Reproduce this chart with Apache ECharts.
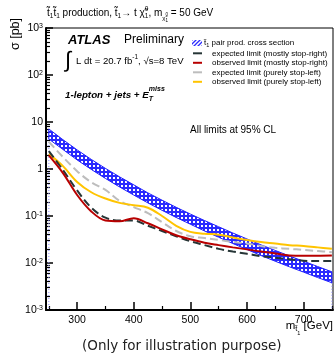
<!DOCTYPE html>
<html><head><meta charset="utf-8">
<script src="https://cdn.jsdelivr.net/npm/echarts@6/dist/echarts.min.js"></script>
<style>html,body{margin:0;padding:0;background:#fff}#c{width:335px;height:363px}</style>
</head><body><div id="c"></div>
<script>
// ---- data (stop mass in GeV, cross sections in pb) ----
const masses = [250,275,300,325,350,375,400,425,450,475,500,525,550,575,600,625,650,675,700,725,750];
const xsecHigh = [7.1,4.2,2.55,1.6,1.03,0.68,0.46,0.31,0.217,0.153,0.110,0.080,0.059,0.0435,0.0325,0.0243,0.0185,0.0141,0.0109,0.0084,0.0065];
const xsecLow  = [4.35,2.6,1.56,0.98,0.63,0.415,0.279,0.19,0.132,0.093,0.067,0.048,0.0353,0.026,0.0194,0.0144,0.0109,0.0083,0.0064,0.0049,0.0038];
const expRight = [2.4,0.95,0.35,0.15,0.092,0.080,0.080,0.062,0.048,0.037,0.029,0.024,0.020,0.0175,0.0157,0.014,0.013,0.012,0.0112,0.011,0.011];
const obsRight = [1.95,0.82,0.28,0.125,0.080,0.077,0.090,0.070,0.052,0.039,0.032,0.027,0.024,0.0215,0.0195,0.0175,0.016,0.0145,0.0143,0.0143,0.0144];
const expLeft  = [3.8,1.8,0.9,0.52,0.36,0.21,0.155,0.115,0.074,0.048,0.037,0.034,0.031,0.028,0.026,0.023,0.021,0.020,0.019,0.018,0.017];
const obsLeft  = [2.1,1.15,0.53,0.32,0.235,0.19,0.17,0.15,0.10,0.062,0.046,0.042,0.040,0.035,0.031,0.028,0.026,0.024,0.023,0.0215,0.020];
const xLabels = [300,400,500,600,700];
const xMinor = [250,350,450,550,650,750];
const yDecades = [0.001,0.01,0.1,1,10,100,1000];
const yMinor = [];
[0.001,0.01,0.1,1,10,100].forEach(d=>{for(let k=2;k<=9;k++) yMinor.push(+(d*k).toPrecision(3));});

const FF = '"Liberation Sans", Arial, Helvetica, sans-serif';
const C_BLUE='#1f1fff', C_RED='#b80000', C_YEL='#ffc400', C_GRAY='#bdbdbd', C_DARK='#263536';

// patterns
function makePattern(kind){
  const c=document.createElement('canvas'); c.width=4; c.height=4; const g=c.getContext('2d');
  if(kind==='dots'){ g.fillStyle='#2a2aff'; g.fillRect(0,0,4,4); g.fillStyle='#ffffff'; g.fillRect(1,1,2,2); }
  else { g.fillStyle='#ffffff'; g.fillRect(0,0,4,4); g.strokeStyle='#2a2aff'; g.lineWidth=1.3;
    g.beginPath(); g.moveTo(0,4); g.lineTo(4,0); g.moveTo(-1,1); g.lineTo(1,-1); g.moveTo(3,5); g.lineTo(5,3); g.stroke(); }
  return {image:c, repeat:'repeat'};
}
const dotPat = makePattern('dots'), hatchPat = makePattern('hatch');

// text helper
const mctx=document.createElement('canvas').getContext('2d');
function fnt(p){return (p.it?'italic ':'')+(p.b?'bold ':'')+p.s+'px '+(p.ff||FF);}
function tw(p){mctx.font=fnt(p);return mctx.measureText(p.t).width;}
function run(x,y,parts,align){
  let total=0; parts.forEach(p=>{if(!p.noadv) total+=tw(p);});
  let cx = align==='right'? x-total : (align==='center'? x-total/2 : x);
  const els=[];
  parts.forEach(p=>{
    els.push({type:'text',x:cx+(p.dx||0),y:y+(p.dy||0),silent:true,
      style:{text:p.t,font:fnt(p),fill:p.c||'#000',textAlign:'left',align:'left',textVerticalAlign:'middle',verticalAlign:'middle'}});
    if(!p.noadv) cx+=tw(p);
  });
  return els;
}
const T='t\u0303', CHI='\u03C7\u0303';

const graphics = [].concat(
  // top title
  run(47,13,[{t:T,s:10},{t:'1',s:6.5,dy:3},{t:T,s:10},{t:'1',s:6.5,dy:3},{t:' production, '+T,s:10},{t:'1',s:6.5,dy:3},
    {t:'\u2192 t '+CHI,s:10},{t:'0',s:6.5,dy:-4,noadv:true},{t:'1',s:6.5,dy:3},{t:', m',s:10},
    {t:CHI,s:6,dy:5},{t:'0',s:4.5,dy:2,noadv:true},{t:'1',s:4.5,dy:8},{t:' = 50 GeV',s:10}]),
  // y title
  [{type:'text',x:16,y:34,rotation:Math.PI/2,silent:true,style:{text:'\u03C3 [pb]',font:'12.5px '+FF,fill:'#000',textAlign:'center',align:'center',textVerticalAlign:'middle',verticalAlign:'middle'}}],
  // ATLAS Preliminary
  run(68,40,[{t:'ATLAS',s:13,b:true,it:true}]),
  run(124,40,[{t:'Preliminary',s:12}]),
  // integral
  run(65,61,[{t:'\u222B',s:22}]),
  run(76,61,[{t:'L dt = 20.7 fb',s:9.6},{t:'-1',s:6.5,dy:-4},{t:', \u221As=8 TeV',s:9.6}]),
  // channel
  run(65,95,[{t:'1-lepton + jets + E',s:9.8,b:true,it:true},{t:'miss',s:7,b:true,it:true,dy:-6,noadv:true},{t:'T',s:7,b:true,it:true,dy:4}]),
  // CL note
  run(190,130,[{t:'All limits at 95% CL',s:10}]),
  // legend
  [{type:'rect',shape:{x:192,y:40,width:10,height:6},silent:true,style:{fill:hatchPat,stroke:null}}],
  run(204,43,[{t:T,s:8},{t:'1',s:5.5,dy:2},{t:' pair prod. cross section',s:8}]),
  [{type:'line',shape:{x1:193,y1:53.3,x2:202,y2:53.3},silent:true,style:{stroke:C_DARK,lineWidth:2}}],
  run(212,53.3,[{t:'expected limit (mostly stop-right)',s:8}]),
  [{type:'line',shape:{x1:193,y1:62.8,x2:202,y2:62.8},silent:true,style:{stroke:C_RED,lineWidth:2}}],
  run(212,62.8,[{t:'observed limit (mostly stop-right)',s:8}]),
  [{type:'line',shape:{x1:193,y1:72.3,x2:202,y2:72.3},silent:true,style:{stroke:C_GRAY,lineWidth:2}}],
  run(212,72.3,[{t:'expected limit (purely stop-left)',s:8}]),
  [{type:'line',shape:{x1:193,y1:81.8,x2:202,y2:81.8},silent:true,style:{stroke:C_YEL,lineWidth:2}}],
  run(212,81.8,[{t:'observed limit (purely stop-left)',s:8}]),
  // x title
  run(333,326,[{t:'m',s:11.5},{t:T,s:7.5,dy:3},{t:'1',s:5.5,dy:7},{t:' [GeV]',s:11.5}],'right'),
  // footnote
  run(82,346,[{t:'(Only for illustration purpose)',s:13.5,ff:'"DejaVu Sans", sans-serif',c:'#222'}])
);

function pairs(arr){return masses.map((m,i)=>[m,arr[i]]);}
function lineSeries(name,arr,color,dash){
  return {name,type:'line',data:pairs(arr),smooth:0.35,symbol:'none',xAxisIndex:0,yAxisIndex:0,z:3,
    lineStyle:{color,width:2,type:dash?[8,4]:'solid'},emphasis:{disabled:true}};
}
function supLabel(v){
  const e=Math.round(Math.log10(v));
  if(e===0) return '1'; if(e===1) return '10';
  return '10{sup|'+e+'}';
}

const chart = echarts.init(document.getElementById('c'),null,{renderer:'canvas'});
chart.setOption({
  animation:false,
  backgroundColor:'#fff',
  grid:{left:46,right:2,top:28,bottom:53,show:true,borderColor:'#000',borderWidth:1,containLabel:false},
  xAxis:[
    {type:'value',min:245,max:752,position:'bottom',
     axisLine:{show:true,onZero:false,lineStyle:{color:'#000',width:2}},
     axisTick:{show:true,inside:true,length:8,customValues:xLabels,lineStyle:{color:'#000',width:1.5}},
     axisLabel:{customValues:xLabels,color:'#000',fontSize:10.5,fontFamily:FF,margin:5},
     splitLine:{show:false}},
    {type:'value',min:245,max:752,position:'bottom',
     axisLine:{show:false},
     axisTick:{show:true,inside:true,length:4,customValues:xMinor,lineStyle:{color:'#000',width:1.2}},
     axisLabel:{show:false},splitLine:{show:false}}
  ],
  yAxis:[
    {type:'log',logBase:10,min:0.001,max:1000,position:'left',
     axisLine:{show:true,onZero:false,lineStyle:{color:'#000',width:2}},
     axisTick:{show:true,inside:true,length:7,customValues:yDecades,lineStyle:{color:'#000',width:1.5}},
     axisLabel:{customValues:yDecades,margin:3,formatter:supLabel,color:'#000',fontSize:10.5,fontFamily:FF,
       rich:{sup:{fontSize:7,fontFamily:FF,color:'#000',verticalAlign:'top',lineHeight:7}}},
     splitLine:{show:false},minorTick:{show:false}},
    {type:'log',logBase:10,min:0.001,max:1000,position:'left',
     axisLine:{show:false},
     axisTick:{show:true,inside:true,length:4,customValues:yMinor,lineStyle:{color:'#000',width:1.2}},
     axisLabel:{show:false},splitLine:{show:false}}
  ],
  series:[
    {name:'xsec band',type:'custom',xAxisIndex:0,yAxisIndex:0,z:2,silent:true,
     data:masses.map((m,i)=>[m,xsecLow[i],xsecHigh[i]]),
     renderItem:function(params,api){
       if(params.dataIndex!==0) return null;
       const up=masses.map((m,i)=>api.coord([m,xsecHigh[i]]));
       const lo=masses.map((m,i)=>api.coord([m,xsecLow[i]])).reverse();
       const b0=api.coord([masses[0],0.001]);
       const l0=api.coord([masses[0],xsecLow[0]]);
       const n=masses.length-1;
       const b1=api.coord([masses[n],0.001]);
       const l1=api.coord([masses[n],xsecLow[n]]);
       return {type:'group',children:[
         {type:'line',shape:{x1:l0[0],y1:l0[1],x2:b0[0],y2:b0[1]},style:{stroke:'#8f8fff',lineWidth:1,lineDash:[1,2]}},
         {type:'line',shape:{x1:l1[0],y1:l1[1],x2:b1[0],y2:b1[1]},style:{stroke:'#8f8fff',lineWidth:1,lineDash:[1,2]}},
         {type:'polygon',shape:{points:up.concat(lo)},style:{fill:dotPat,stroke:C_BLUE,lineWidth:1}}
       ]};
     }},
    lineSeries('expected limit (purely stop-left)',expLeft,C_GRAY,true),
    lineSeries('observed limit (purely stop-left)',obsLeft,C_YEL,false),
    lineSeries('expected limit (mostly stop-right)',expRight,C_DARK,true),
    lineSeries('observed limit (mostly stop-right)',obsRight,C_RED,false)
  ],
  graphic:graphics
});
</script>
</body></html>
